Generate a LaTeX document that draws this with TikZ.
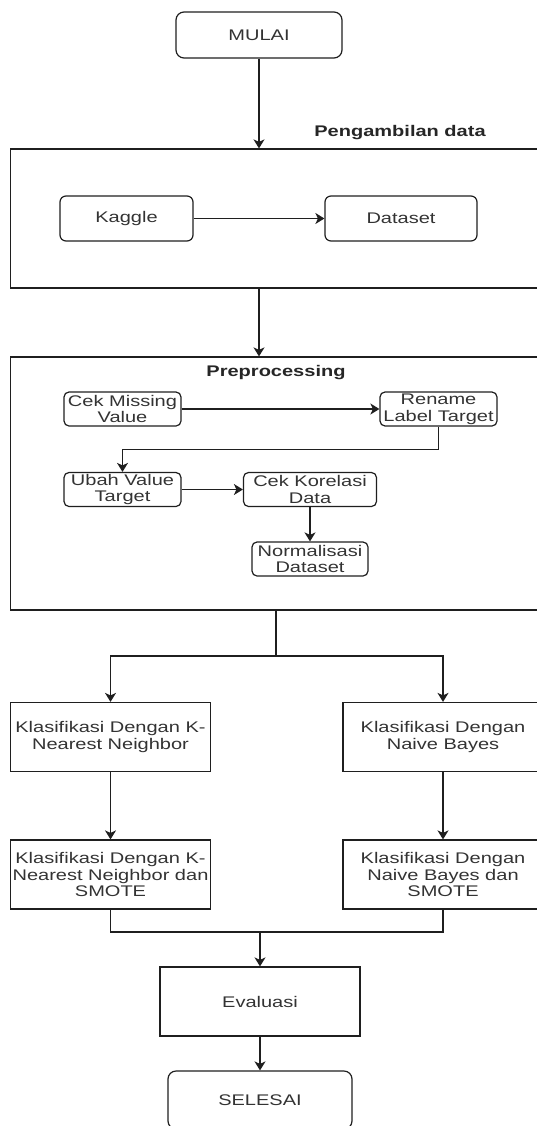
\documentclass[tikz,border=0pt]{standalone}
\usepackage{fontspec}
\setmainfont[FakeStretch=1.3]{Liberation Sans}
\usetikzlibrary{arrows.meta}

\begin{document}
\begin{tikzpicture}[x=1pt,y=-1pt,
  garis/.style={draw=black!88,line width=1.2pt},
  panah/.style={garis,-{Stealth[length=9pt,width=11pt,inset=2.5pt]}},
  every node/.style={text=black!80,font=\fontsize{15.4}{16.7}\selectfont},
  terminal/.style={garis,rounded corners=8pt,inner sep=0pt,minimum width=166pt,minimum height=46pt},
  langkah/.style={garis,rounded corners=6pt,inner sep=0pt,minimum height=45pt},
  kecil/.style={garis,rounded corners=5pt,inner sep=0pt,minimum height=34pt,align=center},
  proses/.style={garis,inner sep=0pt,minimum width=200pt,minimum height=69pt,align=center},
  wadah/.style={garis,inner sep=0pt,minimum width=535pt},
  judul/.style={font=\fontsize{15.4}{16.7}\selectfont\bfseries,text=black!85}
]
\useasboundingbox (0,0) rectangle (537,1126);

                \node[terminal] (mulai) at (259,35){MULAI};

                % pengambilan data
                \node[wadah,minimum height=139pt] (ambil) at (278.2,218.5){};
                \node[judul] (lblambil) at (400,133){Pengambilan data};
                \node[langkah,minimum width=133pt] (kaggle) at (126.5,218.5){Kaggle};
                \node[langkah,minimum width=152pt] (dataset) at (401,218.5){Dataset};

                % preprocessing
                \node[wadah,minimum height=253pt] (prepro) at (278.2,483.5){};
                \node[judul] (lblprepro) at (276,373){Preprocessing};
                \node[kecil,minimum width=117pt] (cekmiss) at (122.5,409){Cek Missing\\Value};
                \node[kecil,minimum width=117pt] (rename) at (438.5,409){Rename\\Label Target};
                \node[kecil,minimum width=117pt] (ubah) at (122.5,489.5){Ubah Value\\Target};
                \node[kecil,minimum width=133pt] (korelasi) at (310,489.5){Cek Korelasi\\Data};
                \node[kecil,minimum width=116pt] (normal) at (310,559){Normalisasi\\Dataset};

                % klasifikasi
                \node[proses] (knn) at (110.5,737){Klasifikasi Dengan K-\\Nearest Neighbor};
                \node[proses] (nb) at (443,737){Klasifikasi Dengan\\Naive Bayes};
                \node[proses] (knnsm) at (110.5,874.5){Klasifikasi Dengan K-\\Nearest Neighbor dan\\SMOTE};
                \node[proses] (nbsm) at (443,874.5){Klasifikasi Dengan\\Naive Bayes dan\\SMOTE};

                \node[proses] (evaluasi) at (260,1001.5){Evaluasi};
                \node[terminal,minimum width=184pt,minimum height=58pt] (selesai) at (260,1100){SELESAI};

                \coordinate (cabang) at (276,656);
                \coordinate (gabung) at (260,932);

                \draw[panah] (mulai) -- (mulai |- ambil.north);
                \draw[panah] (kaggle) -- (dataset);
                \draw[panah] (ambil.south -| mulai) -- (prepro.north -| mulai);
                \draw[panah] (cekmiss) -- (rename);
                \draw[panah] (rename.south) -- ++(0,23) -| (ubah.north);
                \draw[panah] (ubah) -- (korelasi);
                \draw[panah] (korelasi) -- (normal);
                \draw[garis] (prepro.south -| cabang) -- (cabang);
                \draw[panah] (cabang) -| (knn.north);
                \draw[panah] (cabang) -| (nb.north);
                \draw[panah] (knn) -- (knnsm);
                \draw[panah] (nb) -- (nbsm);
                \draw[garis] (knnsm.south) |- (gabung) -| (nbsm.south);
                \draw[panah] (gabung) -- (evaluasi);
                \draw[panah] (evaluasi) -- (selesai);
        \end{tikzpicture}
\end{document}
